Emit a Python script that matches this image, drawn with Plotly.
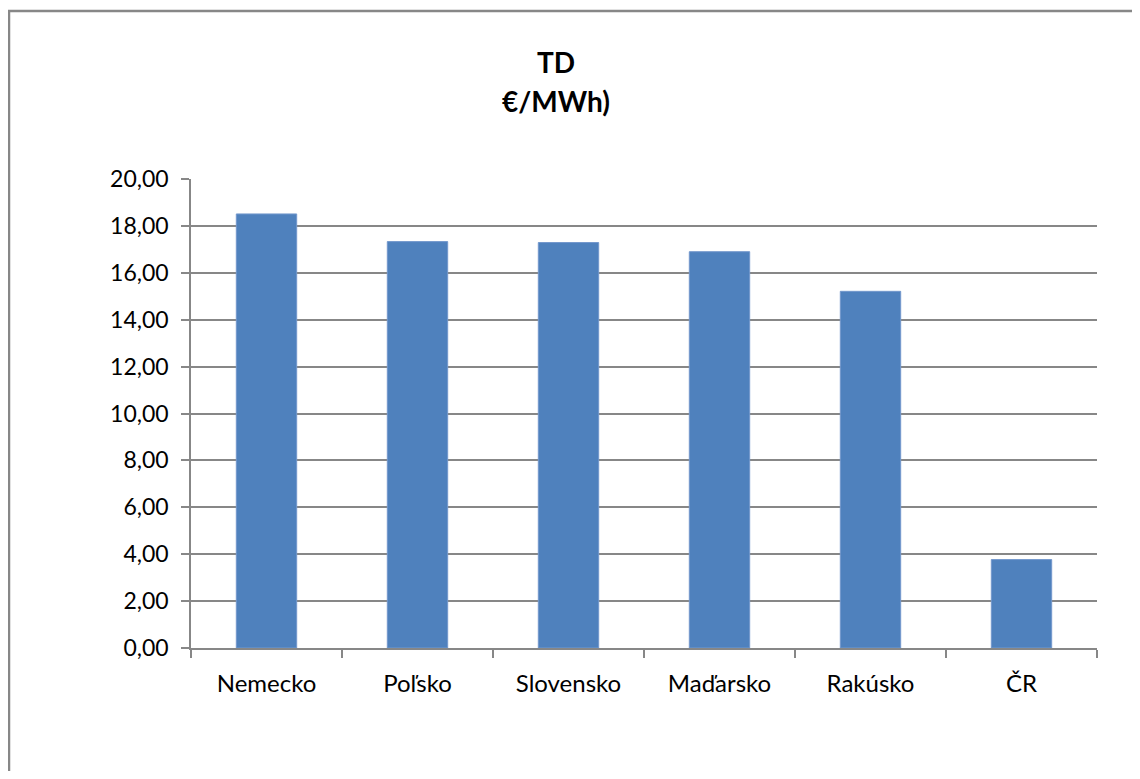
import plotly.graph_objects as go

categories = ["Nemecko", "Poľsko", "Slovensko", "Maďarsko", "Rakúsko", "ČR"]
values = [18.51, 17.33, 17.29, 16.90, 15.21, 3.77]
y_ticks = [0, 2, 4, 6, 8, 10, 12, 14, 16, 18, 20]

OFF = 8  # page body margin
W, H = 1140 - 2 * OFF, 779 - 2 * OFF
L, T = 191 - OFF, 179 - OFF
R = W - (1097 - OFF)
B = H - (648 - OFF)
pw, ph = W - L - R, H - T - B

def px(x):
    return (x - OFF - L) / pw

def py(y):
    return ((648 - OFF) - (y - OFF)) / ph

fig = go.Figure(go.Bar(
    x=categories, y=values,
    marker=dict(color="#4F81BD", line=dict(color="#7398CC", width=1)),
    width=0.4,
))

grid = "#878787"
fig.update_layout(
    width=W, height=H,
    margin=dict(l=L, r=R, t=T, b=B),
    paper_bgcolor="white", plot_bgcolor="white",
    separators=", ",
    font=dict(family="Lato, Open Sans, sans-serif", size=23, color="black"),
    showlegend=False,
    bargap=0.6,
    xaxis=dict(
        showline=True, linecolor=grid, linewidth=1.5,
        ticks="outside", tickson="boundaries", ticklen=8, tickcolor=grid, tickwidth=1.5,
        tickfont=dict(size=24), showgrid=False, ticklabelstandoff=13,
    ),
    yaxis=dict(
        range=[0, 20], tickvals=y_ticks, tickformat=".2f",
        showline=True, linecolor=grid, linewidth=1.5,
        ticks="outside", ticklen=8, tickcolor=grid, tickwidth=1.5,
        showgrid=True, gridcolor=grid, gridwidth=1.5,
        zeroline=False, tickfont=dict(size=23), ticklabelstandoff=8,
    ),
    annotations=[
        dict(text="<b>TD</b>", xref="paper", yref="paper",
             x=px(556), y=py(62), xanchor="center", yanchor="middle",
             showarrow=False, font=dict(size=28, color="black")),
        dict(text="<b>€/MWh)</b>", xref="paper", yref="paper",
             x=px(556), y=py(101), xanchor="center", yanchor="middle",
             showarrow=False, font=dict(size=28, color="black")),
    ],
    shapes=[
        dict(type="line", xref="paper", yref="paper",
             x0=px(8), x1=px(1140), y0=py(11), y1=py(11),
             line=dict(color="#878787", width=2.5), layer="below"),
        dict(type="line", xref="paper", yref="paper",
             x0=px(9), x1=px(9), y0=py(10), y1=py(779),
             line=dict(color="#878787", width=2.5), layer="below"),
    ],
)

fig.write_html("out.html")
